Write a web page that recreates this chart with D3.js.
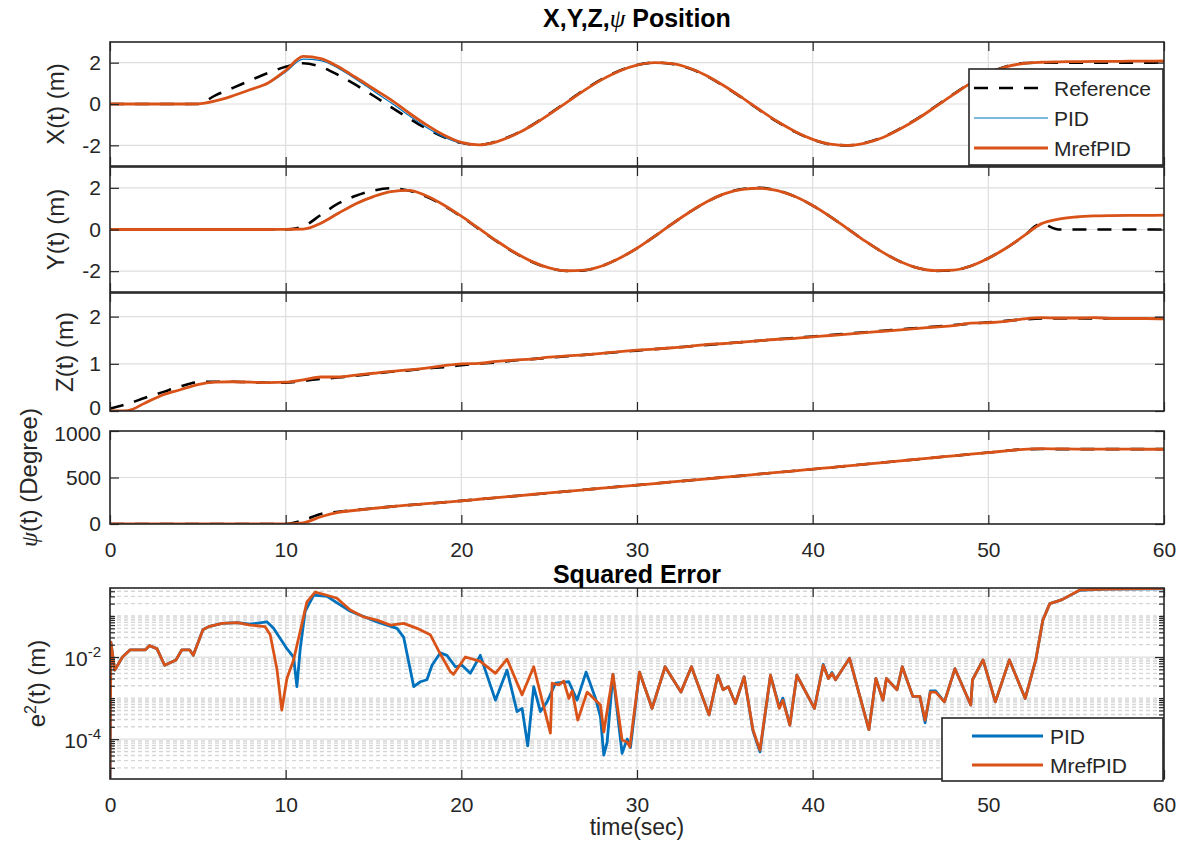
<!DOCTYPE html>
<html>
<head>
<meta charset="utf-8">
<script src="https://cdn.jsdelivr.net/npm/d3@7/dist/d3.min.js"></script>
<style>
  body { margin: 0; background: #fff; }
  svg { display: block; }
</style>
</head>
<body>
<svg id="chart" width="1186" height="843"></svg>
<script>
// ---------------- data ----------------
// sampling instants (s) of the position traces
const time = [
  0, 1, 2, 3, 4, 5, 6, 7, 8, 9,
  10, 11, 12, 13, 14, 15, 16, 17, 18, 19,
  20, 21, 22, 23, 24, 25, 26, 27, 28, 29,
  30, 31, 32, 33, 34, 35, 36, 37, 38, 39,
  40, 41, 42, 43, 44, 45, 46, 47, 48, 49,
  50, 51, 52, 53, 54, 55, 56, 57, 58, 59,
  60
];

// X position (m)
const xRef = [
  0, 0, 0, 0, 0, 0, 0.42, 0.78, 1.15, 1.5,
  1.8, 1.97, 1.8, 1.4, 0.92, 0.4, -0.15, -0.68, -1.18, -1.6,
  -1.88, -1.98, -1.81, -1.48, -1.03, -0.48, 0.1, 0.68, 1.2, 1.61,
  1.89, 2.0, 1.94, 1.72, 1.34, 0.84, 0.28, -0.31, -0.87, -1.35,
  -1.72, -1.95, -2.0, -1.88, -1.6, -1.18, -0.68, -0.11, 0.47, 1.03,
  1.49, 1.82, 1.98, 2, 2, 2, 2, 2, 2, 2,
  2
];
const xPID = [
  0, 0, 0, 0, 0, 0.01, 0.15, 0.4, 0.7, 1.0,
  1.55, 2.17, 2.1, 1.72, 1.2, 0.63, 0.06, -0.55, -1.12, -1.6,
  -1.9, -1.97, -1.82, -1.5, -1.05, -0.5, 0.08, 0.66, 1.18, 1.6,
  1.88, 2.0, 1.95, 1.73, 1.36, 0.86, 0.3, -0.29, -0.85, -1.33,
  -1.71, -1.94, -2.0, -1.89, -1.62, -1.2, -0.7, -0.13, 0.45, 1.01,
  1.47, 1.8, 1.95, 2.01, 2.03, 2.04, 2.05, 2.06, 2.06, 2.07,
  2.07
];
const xMref = [
  0, 0, 0, 0, 0, 0.01, 0.15, 0.4, 0.7, 1.02,
  1.62, 2.3, 2.2, 1.8, 1.28, 0.74, 0.2, -0.42, -1.0, -1.5,
  -1.86, -1.98, -1.83, -1.5, -1.05, -0.5, 0.08, 0.66, 1.18, 1.6,
  1.88, 2.0, 1.95, 1.73, 1.36, 0.86, 0.3, -0.29, -0.85, -1.33,
  -1.71, -1.94, -2.0, -1.89, -1.62, -1.2, -0.7, -0.13, 0.45, 1.01,
  1.47, 1.8, 1.96, 2.02, 2.04, 2.05, 2.06, 2.06, 2.07, 2.07,
  2.08
];

// Y position (m)
const yRef = [
  0, 0, 0, 0, 0, 0, 0, 0, 0, 0,
  0, 0.15, 0.7, 1.25, 1.62, 1.87, 1.98, 1.87, 1.58, 1.15,
  0.62, 0.03, -0.56, -1.1, -1.55, -1.85, -1.99, -1.96, -1.75, -1.38,
  -0.9, -0.33, 0.27, 0.84, 1.34, 1.72, 1.94, 2.0, 1.87, 1.58,
  1.15, 0.62, 0.03, -0.56, -1.1, -1.55, -1.85, -1.99, -1.96, -1.75,
  -1.38, -0.9, -0.33, 0.27, 0, 0, 0, 0, 0, 0,
  0
];
const yPID = [
  0, 0, 0, 0, 0, 0, 0, 0, 0, 0,
  0.01, 0.02, 0.32, 0.8, 1.26, 1.6, 1.83, 1.88, 1.61, 1.17,
  0.63, 0.04, -0.55, -1.09, -1.54, -1.84, -1.98, -1.95, -1.75, -1.38,
  -0.9, -0.33, 0.27, 0.84, 1.34, 1.72, 1.93, 1.98, 1.87, 1.58,
  1.15, 0.62, 0.03, -0.56, -1.1, -1.55, -1.85, -1.97, -1.95, -1.75,
  -1.38, -0.9, -0.32, 0.27, 0.5, 0.6, 0.65, 0.67, 0.68, 0.68,
  0.69
];
const yMref = [
  0, 0, 0, 0, 0, 0, 0, 0, 0, 0,
  0.01, 0.02, 0.3, 0.78, 1.24, 1.58, 1.82, 1.88, 1.62, 1.18,
  0.64, 0.05, -0.54, -1.08, -1.53, -1.84, -1.98, -1.95, -1.75, -1.38,
  -0.9, -0.33, 0.27, 0.84, 1.34, 1.72, 1.93, 1.98, 1.87, 1.58,
  1.15, 0.62, 0.03, -0.56, -1.1, -1.55, -1.85, -1.97, -1.95, -1.75,
  -1.38, -0.9, -0.32, 0.27, 0.5, 0.6, 0.65, 0.67, 0.68, 0.68,
  0.69
];

// Z position (m)
const zRef = [
  0.05, 0.15, 0.28, 0.4, 0.52, 0.61, 0.62, 0.62, 0.61, 0.6,
  0.6, 0.64, 0.68, 0.71, 0.75, 0.79, 0.83, 0.86, 0.9, 0.93,
  0.97, 1.0, 1.03, 1.07, 1.1, 1.13, 1.16, 1.19, 1.22, 1.25,
  1.28, 1.31, 1.34, 1.37, 1.4, 1.43, 1.46, 1.49, 1.52, 1.55,
  1.58, 1.61, 1.64, 1.67, 1.7, 1.73, 1.76, 1.79, 1.82, 1.85,
  1.88, 1.91, 1.94, 1.96, 1.96, 1.96, 1.96, 1.96, 1.96, 1.96,
  1.96
];
const zPID = [
  0, 0.01, 0.17, 0.34, 0.45, 0.56, 0.61, 0.62, 0.61, 0.6,
  0.61, 0.66, 0.72, 0.72, 0.76, 0.8, 0.84, 0.87, 0.91, 0.96,
  1.0, 1.01, 1.05, 1.08, 1.1, 1.14, 1.17, 1.19, 1.22, 1.26,
  1.29, 1.31, 1.34, 1.37, 1.41, 1.43, 1.46, 1.49, 1.52, 1.54,
  1.57, 1.6, 1.63, 1.66, 1.69, 1.72, 1.75, 1.78, 1.81, 1.86,
  1.87, 1.9, 1.95, 1.98, 1.97, 1.97, 1.98, 1.96, 1.96, 1.96,
  1.95
];
const zMref = [
  0, 0.01, 0.17, 0.34, 0.45, 0.56, 0.61, 0.62, 0.61, 0.6,
  0.61, 0.66, 0.72, 0.72, 0.76, 0.8, 0.84, 0.87, 0.91, 0.96,
  1.0, 1.01, 1.05, 1.08, 1.1, 1.14, 1.17, 1.19, 1.22, 1.26,
  1.29, 1.31, 1.34, 1.37, 1.41, 1.43, 1.46, 1.49, 1.52, 1.54,
  1.57, 1.6, 1.63, 1.66, 1.69, 1.72, 1.75, 1.78, 1.81, 1.86,
  1.87, 1.9, 1.95, 1.98, 1.97, 1.97, 1.98, 1.96, 1.96, 1.96,
  1.95
];

// yaw angle psi (degree)
const psiRef = [
  0, 0, 0, 0, 0, 0, 0, 0, 0, 0,
  0, 40, 108, 132, 150, 168, 187, 203, 218, 233,
  249, 266, 283, 300, 317, 334, 351, 368, 385, 402,
  418, 435, 452, 469, 486, 503, 520, 538, 555, 572,
  589, 607, 625, 643, 661, 679, 697, 715, 733, 751,
  768, 786, 803, 806, 805, 805, 805, 805, 805, 805,
  805
];
const psiPID = [
  0, 0, 0, 0, 0, 0, 0, 0, 0, 0,
  0, 12, 78, 125, 148, 168, 187, 203, 218, 233,
  249, 266, 283, 300, 317, 334, 351, 368, 385, 402,
  418, 435, 452, 469, 486, 503, 520, 538, 555, 572,
  589, 607, 625, 643, 661, 679, 697, 715, 733, 751,
  768, 786, 803, 810, 808, 806, 806, 805, 805, 804,
  804
];
const psiMref = [
  0, 0, 0, 0, 0, 0, 0, 0, 0, 0,
  0, 12, 78, 125, 148, 168, 187, 203, 218, 233,
  249, 266, 283, 300, 317, 334, 351, 368, 385, 402,
  418, 435, 452, 469, 486, 503, 520, 538, 555, 572,
  589, 607, 625, 643, 661, 679, 697, 715, 733, 751,
  768, 786, 803, 810, 808, 806, 806, 805, 805, 804,
  804
];

// squared tracking error e^2(t), PID controller
const errTimePID = [
  0, 0.05, 0.27, 0.71, 1.15, 2.02, 2.24, 2.67, 3.11, 3.76,
  4.09, 4.53, 4.74, 5.29, 5.62, 6.38, 7.25, 7.98, 8.93, 9.31,
  10.07, 10.45, 10.64, 10.83, 11.11, 11.59, 12.35, 13.68, 15.2, 16.34,
  16.72, 17.29, 17.67, 18.04, 18.33, 18.8, 19.18, 19.66, 20.04, 20.51,
  21.08, 21.94, 22.6, 23.17, 23.46, 23.78, 24.12, 24.5, 24.88, 25.36,
  26.12, 26.59, 27.1, 27.64, 27.92, 28.11, 28.3, 28.63, 29.15, 29.44,
  29.63, 30.14, 30.86, 31.6, 32.5, 33.1, 34.1, 34.6, 34.9, 35.2,
  35.6, 36.1, 36.6, 37.0, 37.6, 38.1, 38.3, 38.7, 39.1, 40.1,
  40.6, 40.9, 41.1, 41.3, 42.1, 43.2, 43.6, 44.0, 44.2, 44.8,
  45.1, 45.7, 46.1, 46.4, 46.7, 47.0, 47.5, 48.1, 49.0, 49.1,
  49.7, 50.4, 51.2, 52.1, 52.7, 53.1, 53.5, 54.2, 55.2, 56.7,
  60
];
const errPID = [
  1.1e-5, 2.3e-2, 4.8e-3, 1.0e-2, 1.5e-2, 1.5e-2, 1.9e-2, 1.6e-2, 6.3e-3, 8.5e-3,
  1.5e-2, 1.5e-2, 1.1e-2, 4.6e-2, 5.5e-2, 6.6e-2, 6.9e-2, 6.3e-2, 7.2e-2, 5.0e-2,
  1.6e-2, 1.0e-2, 1.9e-3, 1.6e-2, 1.3e-1, 3.2e-1, 3.0e-1, 1.3e-1, 7.2e-2, 5.0e-2,
  3.0e-2, 1.9e-3, 2.5e-3, 2.8e-3, 6.3e-3, 1.26e-2, 1.1e-2, 5.8e-3, 6.3e-3, 4.0e-3,
  1.1e-2, 8.9e-4, 4.8e-3, 4.7e-4, 5.6e-4, 6.9e-5, 1.9e-3, 4.7e-4, 8.1e-4, 2.3e-3,
  2.5e-3, 8.9e-4, 4.3e-3, 9.8e-4, 3.5e-4, 4.1e-5, 8.5e-5, 3.8e-3, 4.5e-5, 1.0e-4,
  6.3e-5, 4.3e-3, 5.6e-4, 5.8e-3, 1.4e-3, 5.8e-3, 3.9e-4, 3.6e-3, 1.6e-3, 1.9e-3,
  7.4e-4, 3.3e-3, 1.6e-4, 4.9e-5, 3.6e-3, 6.0e-4, 1.0e-3, 2.2e-4, 3.6e-3, 5.6e-4,
  6.6e-3, 3.0e-3, 4.2e-3, 2.8e-3, 9.3e-3, 1.7e-4, 3.0e-3, 8.9e-4, 3.0e-3, 1.6e-3,
  5.8e-3, 1.1e-3, 1.1e-3, 2.5e-4, 1.5e-3, 1.5e-3, 8.1e-4, 5.2e-3, 6.8e-4, 2.8e-3,
  8.5e-3, 8.1e-4, 8.5e-3, 9.8e-4, 8.5e-3, 7.9e-2, 2.0e-1, 2.5e-1, 4.2e-1, 4.5e-1,
  4.6e-1
];

// squared tracking error e^2(t), MrefPID controller
const errTimeMref = [
  0, 0.05, 0.27, 0.71, 1.15, 2.02, 2.24, 2.67, 3.11, 3.76,
  4.09, 4.53, 4.74, 5.29, 5.62, 6.38, 7.25, 7.98, 8.83, 9.12,
  9.5, 9.78, 10.07, 10.45, 10.83, 11.21, 11.68, 12.35, 12.92, 13.68,
  14.44, 15.2, 15.96, 16.72, 17.48, 18.23, 18.8, 19.37, 19.56, 20.23,
  21.08, 21.94, 22.6, 23.46, 24.12, 25.07, 25.17, 25.55, 25.83, 26.12,
  26.31, 26.63, 27.16, 27.92, 28.11, 28.63, 29.15, 29.44, 29.59, 30.14,
  30.86, 31.6, 32.5, 33.1, 34.1, 34.6, 34.9, 35.2, 35.6, 36.1,
  36.6, 37.0, 37.6, 38.1, 38.3, 38.7, 39.1, 40.1, 40.6, 40.9,
  41.1, 41.3, 42.1, 43.2, 43.6, 44.0, 44.2, 44.8, 45.1, 45.7,
  46.1, 46.4, 46.7, 47.0, 47.5, 48.1, 49.0, 49.1, 49.7, 50.4,
  51.2, 52.1, 52.7, 53.1, 53.5, 54.2, 55.2, 56.7, 60
];
const errMref = [
  1.1e-5, 2.3e-2, 4.8e-3, 1.0e-2, 1.5e-2, 1.5e-2, 1.9e-2, 1.6e-2, 6.3e-3, 8.5e-3,
  1.5e-2, 1.5e-2, 1.1e-2, 4.6e-2, 5.5e-2, 6.6e-2, 6.9e-2, 6.0e-2, 5.5e-2, 3.5e-2,
  5.2e-3, 5.1e-4, 3.0e-3, 8.5e-3, 4.3e-2, 2.2e-1, 3.8e-1, 3.2e-1, 2.7e-1, 1.4e-1,
  9.5e-2, 7.9e-2, 6.0e-2, 6.6e-2, 5.0e-2, 3.5e-2, 1.2e-2, 4.4e-3, 3.8e-3, 1.0e-2,
  7.8e-3, 4.0e-3, 8.9e-3, 1.2e-3, 5.8e-3, 1.4e-4, 2.3e-3, 2.1e-3, 2.6e-3, 9.8e-4,
  1.5e-3, 2.9e-4, 1.4e-3, 6.8e-4, 1.5e-4, 3.8e-3, 9.5e-5, 8.5e-5, 6.5e-5, 4.3e-3,
  5.6e-4, 5.8e-3, 1.4e-3, 5.8e-3, 3.9e-4, 3.6e-3, 1.6e-3, 1.9e-3, 7.4e-4, 3.3e-3,
  1.7e-4, 5.4e-5, 3.6e-3, 5.6e-4, 8.9e-4, 2.2e-4, 3.6e-3, 5.6e-4, 6.3e-3, 3.0e-3,
  4.0e-3, 2.8e-3, 9.3e-3, 1.7e-4, 3.0e-3, 8.9e-4, 3.0e-3, 1.6e-3, 5.8e-3, 1.1e-3,
  1.1e-3, 2.9e-4, 1.4e-3, 1.4e-3, 8.1e-4, 5.2e-3, 6.8e-4, 2.8e-3, 8.5e-3, 8.1e-4,
  8.5e-3, 9.8e-4, 8.5e-3, 7.9e-2, 2.0e-1, 2.5e-1, 4.3e-1, 4.5e-1, 4.7e-1
];

// axis ticks and labels
const timeTicks = [0, 10, 20, 30, 40, 50, 60];
const legendPos = ["Reference", "PID", "MrefPID"];
const legendErr = ["PID", "MrefPID"];

// ---------------- drawing ----------------
const W = 1186, H = 843;
const FONT = '"Liberation Sans", Arial, Helvetica, sans-serif';
const INK = "#262626";
const BLUE = "#0072BD", ORANGE = "#D95319";
const GRID = "#dedede";
const TICK_FS = 21, LABEL_FS = 24, TITLE_FS = 25, LEGEND_FS = 21;
const plain = d => String(d);   // keeps the ASCII hyphen for negatives

const svg = d3.select("#chart");
svg.append("rect").attr("width", W).attr("height", H).attr("fill", "#fff");

const x = d3.scaleLinear().domain([0, 60]).range([110, 1164]);
const [X0, X1] = x.range();

function styleAxis(sel) {
  sel.select(".domain").remove();
  sel.attr("font-family", FONT).attr("font-size", TICK_FS).attr("color", INK);
  sel.selectAll(".tick line").attr("stroke-width", 1.2);
}

function frame(g, top, bottom) {
  g.append("rect")
    .attr("x", X0).attr("y", top)
    .attr("width", X1 - X0).attr("height", bottom - top)
    .attr("fill", "none").attr("stroke", INK).attr("stroke-width", 1.6);
}

function clip(id, top, bottom) {
  svg.append("clipPath").attr("id", id)
    .append("rect").attr("x", X0).attr("y", top)
    .attr("width", X1 - X0).attr("height", bottom - top);
  return `url(#${id})`;
}

function verticalGrid(g, top, bottom) {
  g.append("g").selectAll("line")
    .data(timeTicks.slice(1, -1))
    .join("line")
    .attr("x1", d => x(d)).attr("x2", d => x(d))
    .attr("y1", top).attr("y2", bottom)
    .attr("stroke", GRID).attr("stroke-width", 1.2);
}

function timeAxes(g, top, bottom, withLabels) {
  g.append("g").attr("transform", `translate(0,${bottom})`)
    .call(d3.axisBottom(x).tickValues(timeTicks).tickSize(-9).tickPadding(18)
      .tickFormat(withLabels ? plain : () => ""))
    .call(styleAxis);
  g.append("g").attr("transform", `translate(0,${top})`)
    .call(d3.axisTop(x).tickValues(timeTicks).tickSize(-9).tickFormat(() => ""))
    .call(styleAxis);
}

function yLabel(g, lx, cy, build) {
  const t = g.append("text")
    .attr("transform", `translate(${lx},${cy}) rotate(-90)`)
    .attr("text-anchor", "middle")
    .attr("font-family", FONT).attr("font-size", LABEL_FS).attr("fill", INK);
  build(t);
}

// ----- the four position panels -----
// nudge: small vertical shift of the end tick labels where two panels meet
const panels = [
  { id: "px", top: 42, bottom: 166, domain: [-3, 3], ticks: [-2, 0, 2], lx: 64,
    ref: xRef, pid: xPID, mref: xMref,
    label: t => t.text("X(t) (m)") },
  { id: "py", top: 167, bottom: 292, domain: [-3, 3], ticks: [-2, 0, 2], lx: 64,
    ref: yRef, pid: yPID, mref: yMref,
    label: t => t.text("Y(t) (m)") },
  { id: "pz", top: 293, bottom: 411, domain: [0, 2.5], ticks: [0, 1, 2], lx: 73,
    ref: zRef, pid: zPID, mref: zMref, nudge: { 0: -3 },
    label: t => t.text("Z(t) (m)") },
  { id: "ppsi", top: 431, bottom: 524, domain: [0, 1000], ticks: [0, 500, 1000], lx: 37,
    ref: psiRef, pid: psiPID, mref: psiMref, timeLabels: true, nudge: { 1000: 3 },
    label: t => {
      t.append("tspan").attr("font-family", '"Liberation Serif", "DejaVu Serif", serif')
        .attr("font-style", "italic").text("ψ");
      t.append("tspan").text("(t) (Degree)");
    } }
];

panels.forEach(p => {
  const y = d3.scaleLinear().domain(p.domain).range([p.bottom, p.top]);
  const g = svg.append("g");
  verticalGrid(g, p.top, p.bottom);
  g.append("g").selectAll("line")
    .data(p.ticks.filter(v => v !== p.domain[0] && v !== p.domain[1]))
    .join("line")
    .attr("x1", X0).attr("x2", X1)
    .attr("y1", d => y(d)).attr("y2", d => y(d))
    .attr("stroke", GRID).attr("stroke-width", 1.2);

  const line = series => d3.line()
    .x((d, i) => x(time[i]))
    .y(d => y(d))
    .curve(d3.curveMonotoneX)(series);

  const lines = g.append("g").attr("clip-path", clip("clip-" + p.id, p.top, p.bottom));
  lines.append("path").attr("d", line(p.ref))
    .attr("fill", "none").attr("stroke", "#000").attr("stroke-width", 2.6)
    .attr("stroke-dasharray", "14,11");
  lines.append("path").attr("d", line(p.pid))
    .attr("fill", "none").attr("stroke", BLUE).attr("stroke-width", 1.2);
  lines.append("path").attr("d", line(p.mref))
    .attr("fill", "none").attr("stroke", ORANGE).attr("stroke-width", 2.8)
    .attr("stroke-linejoin", "round");

  frame(g, p.top, p.bottom);
  const left = g.append("g").attr("transform", `translate(${X0},0)`)
    .call(d3.axisLeft(y).tickValues(p.ticks).tickSize(-9).tickPadding(9).tickFormat(plain))
    .call(styleAxis);
  if (p.nudge) {
    left.selectAll(".tick text")
      .attr("transform", d => `translate(0,${p.nudge[d] || 0})`);
  }
  g.append("g").attr("transform", `translate(${X1},0)`)
    .call(d3.axisRight(y).tickValues(p.ticks).tickSize(-9).tickFormat(() => ""))
    .call(styleAxis);
  timeAxes(g, p.top, p.bottom, !!p.timeLabels);

  yLabel(g, p.lx, (p.top + p.bottom) / 2, p.label);
});

// title of the position block
const title1 = svg.append("text")
  .attr("x", (X0 + X1) / 2).attr("y", 27)
  .attr("text-anchor", "middle")
  .attr("font-family", FONT).attr("font-size", TITLE_FS).attr("font-weight", "bold").attr("fill", "#000");
title1.append("tspan").text("X,Y,Z,");
title1.append("tspan").attr("font-family", '"Liberation Serif", "DejaVu Serif", serif')
  .attr("font-style", "italic").attr("font-weight", "normal").text("ψ");
title1.append("tspan").text(" Position");

// legend of the position block
{
  const lg = svg.append("g");
  lg.append("rect").attr("x", 969).attr("y", 69).attr("width", 194).attr("height", 96)
    .attr("fill", "#fff").attr("stroke", INK).attr("stroke-width", 1.6);
  const styles = [
    { stroke: "#000", w: 2.6, dash: "14,11" },
    { stroke: BLUE, w: 1.2, dash: null },
    { stroke: ORANGE, w: 2.8, dash: null }
  ];
  legendPos.forEach((name, i) => {
    const cy = 88 + i * 30;
    lg.append("line").attr("x1", 974).attr("x2", 1048).attr("y1", cy).attr("y2", cy)
      .attr("stroke", styles[i].stroke).attr("stroke-width", styles[i].w)
      .attr("stroke-dasharray", styles[i].dash);
    lg.append("text").attr("x", 1054).attr("y", cy + 7.5)
      .attr("font-family", FONT).attr("font-size", LEGEND_FS).attr("fill", INK).text(name);
  });
}

// ----- squared error panel (log scale) -----
{
  const top = 588, bottom = 779;
  const y = d3.scaleLog().domain([1.07e-5, 0.48]).range([bottom, top]);
  const g = svg.append("g");

  const major = [1e-4, 1e-2];
  const minor = [];
  for (let e = -5; e <= -1; e++) {
    for (let m = 1; m <= 9; m++) {
      const v = m * Math.pow(10, e);
      if (v > y.domain()[0] && v < y.domain()[1] && !major.some(M => Math.abs(M - v) / v < 1e-9)) minor.push(v);
    }
  }

  // minor (dotted) and major grid
  g.append("g").selectAll("line").data(minor).join("line")
    .attr("x1", X0).attr("x2", X1).attr("y1", d => y(d)).attr("y2", d => y(d))
    .attr("stroke", "#d6d6d6").attr("stroke-width", 1.4).attr("stroke-dasharray", "4,3");
  verticalGrid(g, top, bottom);
  g.append("g").selectAll("line").data(major).join("line")
    .attr("x1", X0).attr("x2", X1).attr("y1", d => y(d)).attr("y2", d => y(d))
    .attr("stroke", GRID).attr("stroke-width", 1.2);

  const lines = g.append("g").attr("clip-path", clip("clip-err", top, bottom));
  const errLine = (ts, vs) => d3.line().x((d, i) => x(ts[i])).y(d => y(d))(vs);
  lines.append("path").attr("d", errLine(errTimePID, errPID))
    .attr("fill", "none").attr("stroke", BLUE).attr("stroke-width", 2.8).attr("stroke-linejoin", "round");
  lines.append("path").attr("d", errLine(errTimeMref, errMref))
    .attr("fill", "none").attr("stroke", ORANGE).attr("stroke-width", 2.8).attr("stroke-linejoin", "round");

  frame(g, top, bottom);
  g.append("g").attr("transform", `translate(${X0},0)`)
    .call(d3.axisLeft(y).tickValues(minor).tickSize(-5).tickFormat(() => "")).call(styleAxis);
  g.append("g").attr("transform", `translate(${X1},0)`)
    .call(d3.axisRight(y).tickValues(minor).tickSize(-5).tickFormat(() => "")).call(styleAxis);
  g.append("g").attr("transform", `translate(${X0},0)`)
    .call(d3.axisLeft(y).tickValues(major).tickSize(-9).tickFormat(() => "")).call(styleAxis);
  g.append("g").attr("transform", `translate(${X1},0)`)
    .call(d3.axisRight(y).tickValues(major).tickSize(-9).tickFormat(() => "")).call(styleAxis);
  timeAxes(g, top, bottom, true);

  // 10^n tick labels
  major.forEach(v => {
    const t = g.append("text").attr("x", X0 - 9).attr("y", y(v) + 9)
      .attr("text-anchor", "end").attr("font-family", FONT).attr("font-size", TICK_FS).attr("fill", INK);
    t.append("tspan").text("10");
    t.append("tspan").attr("dy", -9).attr("font-size", 15).text(String(Math.round(Math.log10(v))));
  });

  yLabel(g, 45, (top + bottom) / 2, t => {
    t.append("tspan").text("e");
    t.append("tspan").attr("dy", -9).attr("font-size", 16).text("2");
    t.append("tspan").attr("dy", 9).text("(t) (m)");
  });

  svg.append("text").attr("x", (X0 + X1) / 2).attr("y", 583)
    .attr("text-anchor", "middle").attr("font-family", FONT)
    .attr("font-size", TITLE_FS).attr("font-weight", "bold").attr("fill", "#000")
    .text("Squared Error");

  svg.append("text").attr("x", (X0 + X1) / 2).attr("y", 835)
    .attr("text-anchor", "middle").attr("font-family", FONT)
    .attr("font-size", 23).attr("fill", INK).text("time(sec)");

  // legend
  const lg = svg.append("g");
  lg.append("rect").attr("x", 942).attr("y", 718).attr("width", 221).attr("height", 63)
    .attr("fill", "#fff").attr("stroke", INK).attr("stroke-width", 1.6);
  [BLUE, ORANGE].forEach((c, i) => {
    const cy = 736 + i * 29;
    lg.append("line").attr("x1", 972).attr("x2", 1043).attr("y1", cy).attr("y2", cy)
      .attr("stroke", c).attr("stroke-width", 2.8);
    lg.append("text").attr("x", 1050).attr("y", cy + 7.5)
      .attr("font-family", FONT).attr("font-size", LEGEND_FS).attr("fill", INK).text(legendErr[i]);
  });
}
</script>
</body>
</html>
